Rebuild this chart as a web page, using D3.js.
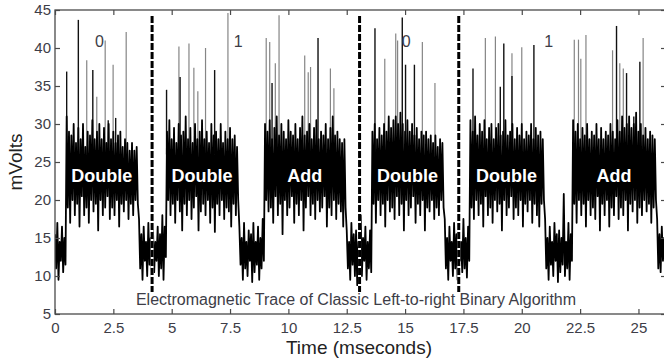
<!DOCTYPE html>
<html>
<head>
<meta charset="utf-8">
<script src="https://cdn.jsdelivr.net/npm/d3@7/dist/d3.min.js"></script>
<style>
  html, body { margin: 0; padding: 0; background: #fff; }
  svg { display: block; font-family: "Liberation Sans", Arial, Helvetica, sans-serif; }
</style>
</head>
<body>
<svg id="chart" width="664" height="360"></svg>
<script>
// Sampled EM trace, in mV. Each segment is a run of samples taken every
// sampleStep ms, starting at segmentStart; each sample has an upper (hi)
// and lower (lo) excursion of the fast oscillation.
const sampleStep = 0.1;
const segmentStart = [0, 0.5, 3.6, 4.8, 7.9, 9.0, 12.5, 13.6, 16.7, 17.8, 21.0, 22.2, 25.8];

const traceHi = [
  [15.5, 17, 14.5, 16.5, 15],
  [31, 29, 28.5, 30, 27.5, 29.5, 28, 30, 27, 29, 28.5, 30.5, 28, 29, 30, 28, 29.5, 27.5, 30, 28, 29, 27.5, 28.5, 29, 27, 28, 27.5, 26.5, 27.5, 26.5, 27],
  [17.5, 15.5, 16.5, 14.5, 17, 15, 16, 14.5, 16.5, 15.5, 18, 16.5],
  [29, 30.5, 28, 29.5, 27.5, 30, 28.5, 29, 31, 28, 29.5, 27.5, 30, 28, 29, 30.5, 28, 29, 27.5, 30, 28.5, 29, 28, 30, 27.5, 29, 28, 29.5, 28, 28.5, 27],
  [16.5, 15, 17, 14.5, 16, 15.5, 17, 14.5, 16.5, 15, 17.5],
  [30, 29, 30.5, 28, 29.5, 31, 28.5, 30, 29, 28, 30.5, 29, 28.5, 30, 28, 29.5, 31, 28.5, 29, 30, 28, 29.5, 30.5, 28, 29, 28.5, 30, 28, 29.5, 31, 28.5, 29, 28, 27.5, 28],
  [16, 14.5, 17, 15.5, 16, 14.5, 18, 15, 16.5, 14.5, 16],
  [29, 30, 28, 29.5, 28.5, 30, 29, 31, 29.5, 30.5, 31, 30, 31.5, 30, 29, 30.5, 29, 30, 28.5, 29.5, 28, 29, 28.5, 29, 28, 28.5, 27.5, 28.5, 27, 28, 27.5],
  [17.5, 15, 16.5, 14.5, 17, 15.5, 16, 14.5, 17.5, 15, 16.5],
  [30.5, 29, 31, 28.5, 30, 29, 30.5, 28, 29.5, 30, 28, 29.5, 30, 28.5, 29, 30.5, 28.5, 29, 30, 28, 29.5, 28.5, 30, 28, 29, 28.5, 30, 28, 29.5, 28.5, 29, 28],
  [17.5, 15, 16.5, 14.5, 17, 15.5, 16, 15, 20.8, 14.5, 17, 15.5],
  [30.5, 29, 30, 28, 29.5, 28.5, 30, 28, 29, 28.5, 30, 28, 29.5, 28, 29, 28.5, 30, 29, 28, 30.5, 29, 31, 29.5, 30, 31, 29.5, 30, 31.5, 29, 30, 28.5, 29.5, 28, 29, 28.5, 28],
  [17.5, 15.5, 16.5, 15]
];

const traceLo = [
  [11, 9.5, 12, 10.5, 11.5],
  [19, 17, 20, 18, 19.5, 16.5, 20.5, 18, 19, 17, 20, 18.5, 19.5, 16, 20, 18, 19, 20.5, 17.5, 19, 18, 20, 16.5, 19.5, 18.5, 20, 17.5, 19.5, 18, 20, 19.5],
  [11, 9.5, 12, 10, 11.5, 9.5, 10.5, 12, 10, 11, 9.5, 12.5],
  [20, 18, 19.5, 17, 20, 18.5, 16, 19.5, 18, 20, 17.5, 19, 20.5, 16, 18.5, 19.5, 18, 20, 17, 19, 15.8, 19.5, 18, 20, 17.5, 19, 18.5, 16.5, 19.5, 18, 20],
  [11.5, 9.5, 11, 10, 12, 9.2, 10.5, 11.5, 9.5, 11, 12],
  [20, 18.5, 19, 17, 20.5, 18, 19.5, 15.5, 20, 18, 19, 20.5, 17, 19.5, 18, 20, 16, 19, 20.5, 18, 19.5, 17.5, 20, 18.5, 19, 20.5, 16.5, 19, 18, 20, 17.5, 19.5, 18.5, 16.5, 19],
  [11, 9.5, 11.5, 10, 8.8, 11, 10, 12, 9.5, 11, 10.5],
  [19.5, 17, 20, 18, 19.5, 16.5, 20, 18.5, 19, 17.5, 20.5, 18, 19.5, 16, 20, 18, 19, 20.5, 17, 19.5, 18, 20, 16, 19, 18.5, 20, 17.5, 19, 18, 20, 19],
  [11, 9.5, 12, 10, 11, 9.5, 12, 10.5, 11, 9.8, 12],
  [19, 17.5, 20, 18, 19.5, 16.5, 20.5, 18, 19, 17, 20, 18.5, 19.5, 16, 20, 18, 19, 20.5, 17.5, 19, 18, 20, 16.5, 19.5, 18.5, 20, 17, 19.5, 18, 16.5, 19.5, 20],
  [11, 9.5, 11.5, 10, 12, 9.2, 10.5, 11.5, 10, 11, 9.5, 12],
  [19.5, 17, 20, 18, 19.5, 16.5, 20, 18, 19, 17.5, 20.5, 16, 19.5, 18, 20, 16.5, 19, 18, 20.5, 17.5, 19, 18, 20, 16, 19.5, 18.5, 20, 17, 19, 18, 20, 18.5, 19.5, 17, 19, 20],
  [11, 10.5, 12, 11.5]
];

// Isolated tall excursions above the band: time (ms) and peak (mV).
// Dark ones are drawn heavier than the faint ones.
const spikesDark = [
  [0.50, 36.9], [1.00, 43.7], [1.62, 37.1], [2.28, 30.5], [2.60, 30.8],
  [4.78, 34.5], [5.36, 36.2], [6.84, 37.1],
  [9.30, 35.4], [11.27, 41.3],
  [13.71, 42.6], [14.88, 44.0], [15.02, 37.8], [15.40, 37.8],
  [17.91, 37.3], [19.08, 34.9], [19.23, 40.6], [19.58, 36.3], [20.52, 40.4],
  [24.06, 42.9], [24.49, 36.7], [24.80, 31.0], [25.06, 38.2]
];
const spikesLight = [
  [1.36, 38.4], [1.79, 33.6], [2.15, 41.0], [2.49, 37.8], [3.05, 42.1],
  [5.31, 40.2], [5.74, 40.6], [5.95, 37.4], [6.12, 34.3], [6.45, 40.0], [7.41, 44.6],
  [9.05, 41.3], [9.20, 40.8], [9.44, 38.0], [9.60, 44.3], [10.70, 39.0], [10.85, 36.8], [10.95, 37.5], [11.80, 37.3], [11.95, 34.7],
  [14.13, 38.6], [14.60, 41.9], [14.68, 41.0], [15.74, 40.8], [16.28, 35.4],
  [18.44, 41.3], [18.87, 41.5], [19.58, 39.3], [20.00, 40.1],
  [22.25, 41.1], [22.43, 41.1], [22.53, 38.6], [22.75, 41.7], [23.89, 39.7], [24.20, 38.0], [24.35, 37.3], [25.20, 41.3]
];

// Operation carried out in each high-activity segment (segments 1, 3, 5, ...).
const operations = ["Double", "Double", "Add", "Double", "Double", "Add"];

// Key bits and where they are annotated (ms).
const keyBits = ["0", "1", "0", "1"];
const keyBitTimes = [1.9, 7.85, 15.05, 21.15];

// Boundaries between processed key bits (ms).
const bitBoundaries = [4.16, 13.05, 17.3];

const xTicks = [0, 2.5, 5, 7.5, 10, 12.5, 15, 17.5, 20, 22.5, 25];
const xTickLabels = ["0", "2.5", "5", "7.5", "10", "12.5", "15", "17.5", "20", "22.5", "25"];
const yTicks = [5, 10, 15, 20, 25, 30, 35, 40, 45];

const svg = d3.select("#chart");
const plotLeft = 55, plotRight = 666, plotTop = 10, plotBottom = 314;

const x = d3.scaleLinear().domain([0, 26.18]).range([plotLeft, plotRight]);
const y = d3.scaleLinear().domain([5, 45]).range([plotBottom, plotTop]);

const textColor = "#3d3d47";
const axisColor = "#4a4a4a";

// Clip the trace to the axes box
svg.append("defs").append("clipPath").attr("id", "plot-clip")
  .append("rect").attr("x", plotLeft).attr("y", plotTop)
  .attr("width", plotRight - plotLeft).attr("height", plotBottom - plotTop);

const plot = svg.append("g").attr("clip-path", "url(#plot-clip)");

// Zig-zag through every sample: up to hi, then down to lo half a step later
const points = [];
segmentStart.forEach((t0, s) => {
  traceHi[s].forEach((hi, j) => {
    const t = t0 + j * sampleStep;
    points.push([t, hi]);
    points.push([t + sampleStep / 2, traceLo[s][j]]);
  });
});

const line = d3.line().x(d => x(d[0])).y(d => y(d[1]));

// Tall excursions (drawn under the dense trace)
plot.selectAll("line.spike-light")
  .data(spikesLight)
  .join("line")
  .attr("class", "spike-light")
  .attr("x1", d => x(d[0])).attr("x2", d => x(d[0]))
  .attr("y1", y(26)).attr("y2", d => y(d[1]))
  .attr("stroke", "#858585")
  .attr("stroke-width", 1.2);

plot.selectAll("line.spike-dark")
  .data(spikesDark)
  .join("line")
  .attr("class", "spike-dark")
  .attr("x1", d => x(d[0])).attr("x2", d => x(d[0]))
  .attr("y1", y(26)).attr("y2", d => y(d[1]))
  .attr("stroke", "#111")
  .attr("stroke-width", 1.4);

plot.append("path")
  .datum(points)
  .attr("d", line)
  .attr("fill", "none")
  .attr("stroke", "#000")
  .attr("stroke-width", 1.8)
  .attr("stroke-linejoin", "round");

// Dashed markers between key bits (white underlay so the gaps show on the trace)
const markers = svg.append("g");
bitBoundaries.forEach(t => {
  markers.append("line")
    .attr("x1", x(t)).attr("x2", x(t))
    .attr("y1", y(44.2)).attr("y2", y(7.9))
    .attr("stroke", "#fff").attr("stroke-width", 3);
  markers.append("line")
    .attr("x1", x(t)).attr("x2", x(t))
    .attr("y1", y(44.2)).attr("y2", y(7.9))
    .attr("stroke", "#000").attr("stroke-width", 3)
    .attr("stroke-dasharray", "7,2");
});

// Operation names centred on their segments
const opLabels = svg.append("g");
operations.forEach((name, k) => {
  const s = 2 * k + 1;
  const tMid = segmentStart[s] + (traceHi[s].length - 1) * sampleStep / 2;
  opLabels.append("text")
    .attr("x", x(tMid))
    .attr("y", 182)
    .attr("text-anchor", "middle")
    .attr("fill", "#fff")
    .attr("font-size", 18)
    .attr("font-weight", "bold")
    .text(name);
});

// Key bit annotations
keyBits.forEach((b, i) => {
  svg.append("text")
    .attr("x", x(keyBitTimes[i]))
    .attr("y", 47)
    .attr("text-anchor", "middle")
    .attr("fill", textColor)
    .attr("font-size", 16)
    .text(b);
});

// Axes: ticks point inward on all four sides
const gx = svg.append("g").attr("transform", `translate(0,${plotBottom})`)
  .call(d3.axisBottom(x).tickValues(xTicks).tickFormat((d, i) => xTickLabels[i])
    .tickSizeInner(-5).tickSizeOuter(0).tickPadding(8));
const gxTop = svg.append("g").attr("transform", `translate(0,${plotTop})`)
  .call(d3.axisTop(x).tickValues(xTicks).tickFormat("").tickSizeInner(-5).tickSizeOuter(0));
const gy = svg.append("g").attr("transform", `translate(${plotLeft},0)`)
  .call(d3.axisLeft(y).tickValues(yTicks).tickSizeInner(-5).tickSizeOuter(0).tickPadding(4));
const gyRight = svg.append("g").attr("transform", `translate(${plotRight},0)`)
  .call(d3.axisRight(y).tickValues(yTicks).tickFormat("").tickSizeInner(-5).tickSizeOuter(0));

[gx, gxTop, gy, gyRight].forEach(g => {
  g.select(".domain").remove();
  g.selectAll(".tick line").attr("stroke", axisColor).attr("stroke-width", 1.2);
  g.selectAll(".tick text").attr("fill", textColor).attr("font-size", 15)
    .attr("font-family", "Liberation Sans, Arial, sans-serif");
});

svg.append("rect")
  .attr("x", plotLeft).attr("y", plotTop)
  .attr("width", plotRight - plotLeft).attr("height", plotBottom - plotTop)
  .attr("fill", "none").attr("stroke", axisColor).attr("stroke-width", 1.3);

// Caption inside the axes
svg.append("text")
  .attr("x", 356).attr("y", 305)
  .attr("text-anchor", "middle")
  .attr("fill", textColor)
  .attr("font-size", 16)
  .text("Electromagnetic Trace of Classic Left-to-right Binary Algorithm");

// Axis titles
svg.append("text")
  .attr("x", 359).attr("y", 354)
  .attr("text-anchor", "middle")
  .attr("fill", "#222")
  .attr("font-size", 19)
  .text("Time (mseconds)");

svg.append("text")
  .attr("transform", "translate(22,162) rotate(-90)")
  .attr("text-anchor", "middle")
  .attr("fill", "#222")
  .attr("font-size", 19)
  .text("mVolts");
</script>
</body>
</html>
